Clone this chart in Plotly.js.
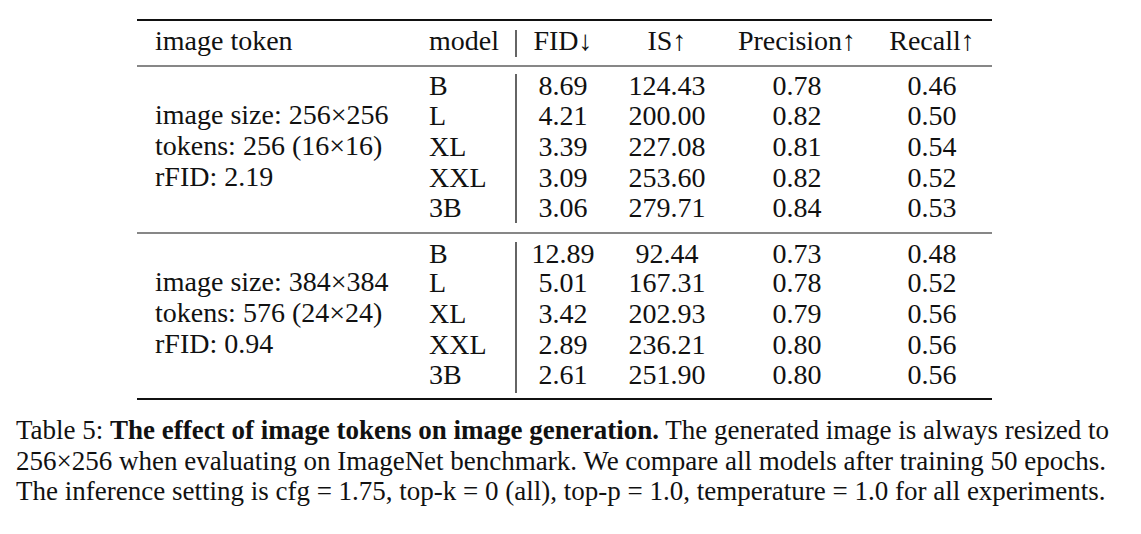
<!DOCTYPE html>
<html>
<head>
<meta charset="utf-8">
<script src="https://cdn.plot.ly/plotly-3.0.1.min.js"></script>
<style>body{margin:0;background:#fff}</style>
</head>
<body>
<div id="chart" style="width:1141px;height:534px"></div>
<script>
const headers = ["image token", "model", "FID↓", "IS↑", "Precision↑", "Recall↑"];
const models = ["B", "L", "XL", "XXL", "3B"];
const groupLabels = [
  ["image size: 256×256", "tokens: 256 (16×16)", "rFID: 2.19"],
  ["image size: 384×384", "tokens: 576 (24×24)", "rFID: 0.94"],
];
const fid = [
  ["8.69", "4.21", "3.39", "3.09", "3.06"],
  ["12.89", "5.01", "3.42", "2.89", "2.61"],
];
const isScore = [
  ["124.43", "200.00", "227.08", "253.60", "279.71"],
  ["92.44", "167.31", "202.93", "236.21", "251.90"],
];
const precision = [
  ["0.78", "0.82", "0.81", "0.82", "0.84"],
  ["0.73", "0.78", "0.79", "0.80", "0.80"],
];
const recall = [
  ["0.46", "0.50", "0.54", "0.52", "0.53"],
  ["0.48", "0.52", "0.56", "0.56", "0.56"],
];
const captionLines = [
  "Table 5: <b>The effect of image tokens on image generation.</b> The generated image is always resized to",
  "256×256 when evaluating on ImageNet benchmark. We compare all models after training 50 epochs.",
  "The inference setting is cfg = 1.75, top-k = 0 (all), top-p = 1.0, temperature = 1.0 for all experiments.",
];

// layout positions (pixels)
const headerY = 43;
const groupRowY = [[88, 118, 149, 180, 210], [256, 285, 316, 347, 377]];
const colX = { token: 155, model: 429, fid: 563, is: 667, prec: 797, rec: 932 };
const font = { family: "Liberation Serif, DejaVu Serif, serif", size: 28, color: "#111" };

const leftX = [], leftY = [], leftT = [];
const cenX = [], cenY = [], cenT = [];

leftX.push(colX.token, colX.model); leftY.push(headerY, headerY); leftT.push(headers[0], headers[1]);
[colX.fid, colX.is, colX.prec, colX.rec].forEach((x, i) => {
  cenX.push(x); cenY.push(headerY); cenT.push(headers[i + 2]);
});

groupRowY.forEach((ys, g) => {
  groupLabels[g].forEach((t, k) => { leftX.push(colX.token); leftY.push(ys[1 + k] - 1); leftT.push(t); });
  ys.forEach((y, r) => {
    leftX.push(colX.model); leftY.push(y); leftT.push(models[r]);
    [[colX.fid, fid], [colX.is, isScore], [colX.prec, precision], [colX.rec, recall]].forEach(([x, arr]) => {
      cenX.push(x); cenY.push(y); cenT.push(arr[g][r]);
    });
  });
});

const data = [
  { type: "scatter", mode: "text", x: leftX, y: leftY, text: leftT, textposition: "middle right",
    textfont: font, hoverinfo: "skip", cliponaxis: false },
  { type: "scatter", mode: "text", x: cenX, y: cenY, text: cenT, textposition: "middle center",
    textfont: font, hoverinfo: "skip", cliponaxis: false },
];

const line = (y, w) => ({ type: "line", xref: "x", yref: "y", x0: 137, x1: 992, y0: y, y1: y, line: { color: "#111", width: w } });
const vbar = (y0, y1) => ({ type: "line", xref: "x", yref: "y", x0: 516, x1: 516, y0: y0, y1: y1, line: { color: "#111", width: 1.3 } });

const layout = {
  width: 1141, height: 534,
  margin: { l: 0, r: 0, t: 0, b: 0 },
  paper_bgcolor: "white", plot_bgcolor: "white",
  showlegend: false,
  xaxis: { range: [0, 1141], visible: false, fixedrange: true },
  yaxis: { range: [534, 0], visible: false, fixedrange: true },
  shapes: [line(20, 2), line(66, 1.2), line(233, 1.2), line(399, 2),
    vbar(30, 57), vbar(74, 223), vbar(242, 393)],
  annotations: captionLines.map((t, i) => ({
    xref: "x", yref: "y", x: 14, y: 430 + i * 30.5, xanchor: "left", yanchor: "middle",
    text: t, showarrow: false, font: { family: font.family, size: 27, color: "#111" },
  })),
};

Plotly.newPlot("chart", data, layout, { staticPlot: true, displayModeBar: false });
</script>
</body>
</html>
